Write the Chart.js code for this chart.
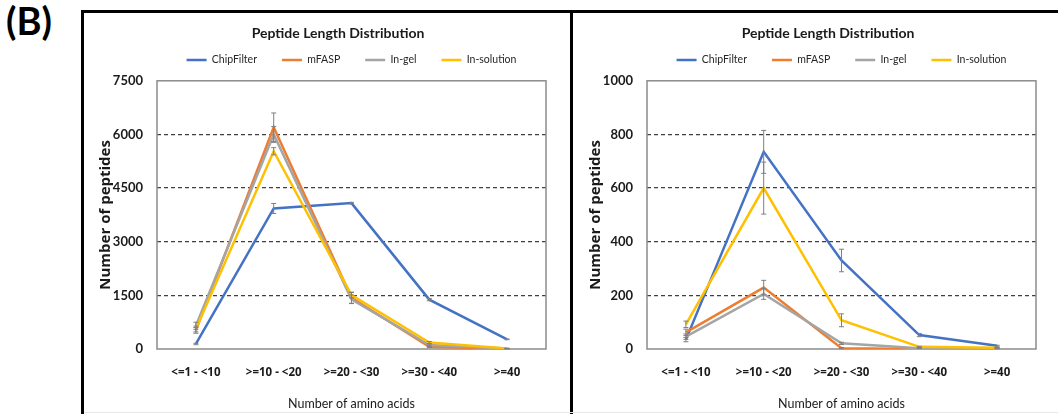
<!DOCTYPE html>
<html>
<head>
<meta charset="utf-8">
<script src="https://cdn.jsdelivr.net/npm/chart.js@4"></script>
<style>
  body { margin: 0; background: #fff; width: 1058px; height: 414px; overflow: hidden; position: relative; font-family: Lato, sans-serif; }
  #tag { position: absolute; left: 6px; top: -3px; font: bold 38px Lato, sans-serif; color: #000; }
  #frame { position: absolute; left: 81px; top: 10px; width: 1100px; height: 500px; border: 3px solid #000; }
  #divider { position: absolute; left: 570px; top: 10px; width: 3px; height: 420px; background: #000; }
  #foot { position: absolute; left: 84px; top: 412px; width: 1000px; height: 1px; background: #e8e8e8; }
  .panel { position: absolute; top: 13px; width: 508px; height: 401px; }
</style>
</head>
<body>
<div id="tag">(B)</div>
<div id="frame"></div>
<div id="divider"></div>
<div id="foot"></div>
<div class="panel" style="left:84px"><canvas id="chartA"></canvas></div>
<div class="panel" style="left:574px"><canvas id="chartB"></canvas></div>
<script>
const categories = ['<=1 - <10', '>=10 - <20', '>=20 - <30', '>=30 - <40', '>=40'];
const seriesNames = ['ChipFilter', 'mFASP', 'In-gel', 'In-solution'];
const seriesColors = ['#4472C4', '#ED7D31', '#A5A5A5', '#FFC000'];

// left panel
const chipA = [140, 3930, 4080, 1380, 270];
const faspA = [520, 6200, 1430, 60, 10];
const gelA = [650, 6000, 1390, 110, 12];
const solA = [560, 5530, 1510, 180, 15];
const chipAErr = [20, 140, 20, 30, 10];
const faspAErr = [80, 400, 150, 20, 5];
const gelAErr = [100, 220, 120, 30, 5];
const solAErr = [80, 100, 80, 30, 5];
const ticksA = [0, 1500, 3000, 4500, 6000, 7500];

// right panel
const chipB = [35, 735, 330, 52, 12];
const faspB = [62, 229, 3, 0, 0];
const gelB = [46, 205, 21, 3, 2];
const solB = [92, 600, 107, 8, 5];
const chipBErr = [8, 80, 42, 6, 2];
const faspBErr = [12, 27, 2, 0, 0];
const gelBErr = [10, 20, 4, 1, 1];
const solBErr = [12, 97, 24, 2, 1];
const ticksB = [0, 200, 400, 600, 800, 1000];

const FONT = 'Lato, "Open Sans", sans-serif';
const WIDE = '"Open Sans", Lato, sans-serif';

// plot border + error bars, both placed with the chart's own scales
const plotExtras = {
  id: 'plotExtras',
  beforeDatasetsDraw(chart) {
    const { ctx, chartArea: a } = chart;
    ctx.save();
    ctx.strokeStyle = '#8c8c8c';
    ctx.lineWidth = 1.5;
    ctx.strokeRect(a.left, a.top, a.right - a.left, a.bottom - a.top);
    ctx.restore();
  },
  afterDatasetsDraw(chart) {
    const { ctx } = chart;
    const x = chart.scales.x, y = chart.scales.y;
    ctx.save();
    ctx.strokeStyle = '#7f7f7f';
    ctx.lineWidth = 1;
    chart.data.datasets.forEach(ds => {
      ds.data.forEach((v, i) => {
        const e = ds.err[i];
        if (!e) return;
        const px = x.getPixelForValue(i);
        const top = y.getPixelForValue(v + e);
        const bot = y.getPixelForValue(Math.max(v - e, 0));
        ctx.beginPath();
        ctx.moveTo(px, top); ctx.lineTo(px, bot);
        ctx.moveTo(px - 2.5, top); ctx.lineTo(px + 2.5, top);
        ctx.moveTo(px - 2.5, bot); ctx.lineTo(px + 2.5, bot);
        ctx.stroke();
      });
    });
    ctx.restore();
  }
};

function makeChart(id, series, errs, ticks) {
  const max = ticks[ticks.length - 1];
  new Chart(document.getElementById(id), {
    type: 'line',
    data: {
      labels: categories,
      datasets: series.map((d, i) => ({
        label: seriesNames[i],
        data: d,
        err: errs[i],
        borderColor: seriesColors[i],
        backgroundColor: seriesColors[i],
        borderWidth: 2.5,
        pointRadius: 0,
        tension: 0,
        order: series.length - i
      }))
    },
    options: {
      responsive: true,
      maintainAspectRatio: false,
      animation: false,
      layout: { padding: 0 },
      plugins: {
        tooltip: { enabled: false },
        title: {
          display: true,
          text: 'Peptide Length Distribution',
          color: '#1a1a1a',
          font: { family: FONT, size: 14, weight: 'bold' },
          padding: { top: 12, bottom: -12 }
        },
        legend: {
          position: 'top',
          fullSize: false,
          labels: {
            usePointStyle: true,
            pointStyle: 'line',
            pointStyleWidth: 20,
            padding: 25,
            color: '#262626',
            font: { family: FONT, size: 10.5 },
            sort: (a, b) => a.datasetIndex - b.datasetIndex
          }
        }
      },
      scales: {
        x: {
          type: 'category',
          offset: true,
          grid: { display: false, drawTicks: false },
          border: { display: false },
          ticks: { color: '#1a1a1a', padding: 17, font: { family: WIDE, size: 11.5, weight: 'bold' }, maxRotation: 0 },
          title: { display: true, text: 'Number of amino acids', color: '#1a1a1a', font: { family: FONT, size: 12.5 }, padding: { top: 0, bottom: 3 } },
          afterFit: s => { s.height = 65; }
        },
        xTop: {
          type: 'category',
          position: 'top',
          display: true,
          grid: { display: false, drawTicks: false },
          border: { display: false },
          ticks: { display: false },
          afterFit: s => { s.height = 5.5; }
        },
        y: {
          min: 0,
          max: max,
          afterBuildTicks: s => { s.ticks = ticks.map(v => ({ value: v })); },
          grid: {
            drawTicks: false,
            color: c => (c.tick.value === 0 || c.tick.value === max) ? 'rgba(0,0,0,0)' : '#404040',
            lineWidth: 1.2
          },
          border: { display: false, dash: [4, 3] },
          ticks: { color: '#1a1a1a', padding: 14, font: { family: FONT, size: 13, weight: 'bold' }, callback: v => String(v) },
          title: { display: true, text: 'Number of peptides', color: '#1a1a1a', font: { family: WIDE, size: 15, weight: 'bold' }, padding: { top: 13, bottom: 0 } },
          afterFit: s => { s.width = 73; }
        },
        yRight: {
          position: 'right',
          display: true,
          grid: { display: false, drawTicks: false },
          border: { display: false },
          ticks: { display: false },
          afterFit: s => { s.width = 46; }
        }
      }
    },
    plugins: [plotExtras]
  });
}

makeChart('chartA', [chipA, faspA, gelA, solA], [chipAErr, faspAErr, gelAErr, solAErr], ticksA);
makeChart('chartB', [chipB, faspB, gelB, solB], [chipBErr, faspBErr, gelBErr, solBErr], ticksB);
</script>
</body>
</html>
